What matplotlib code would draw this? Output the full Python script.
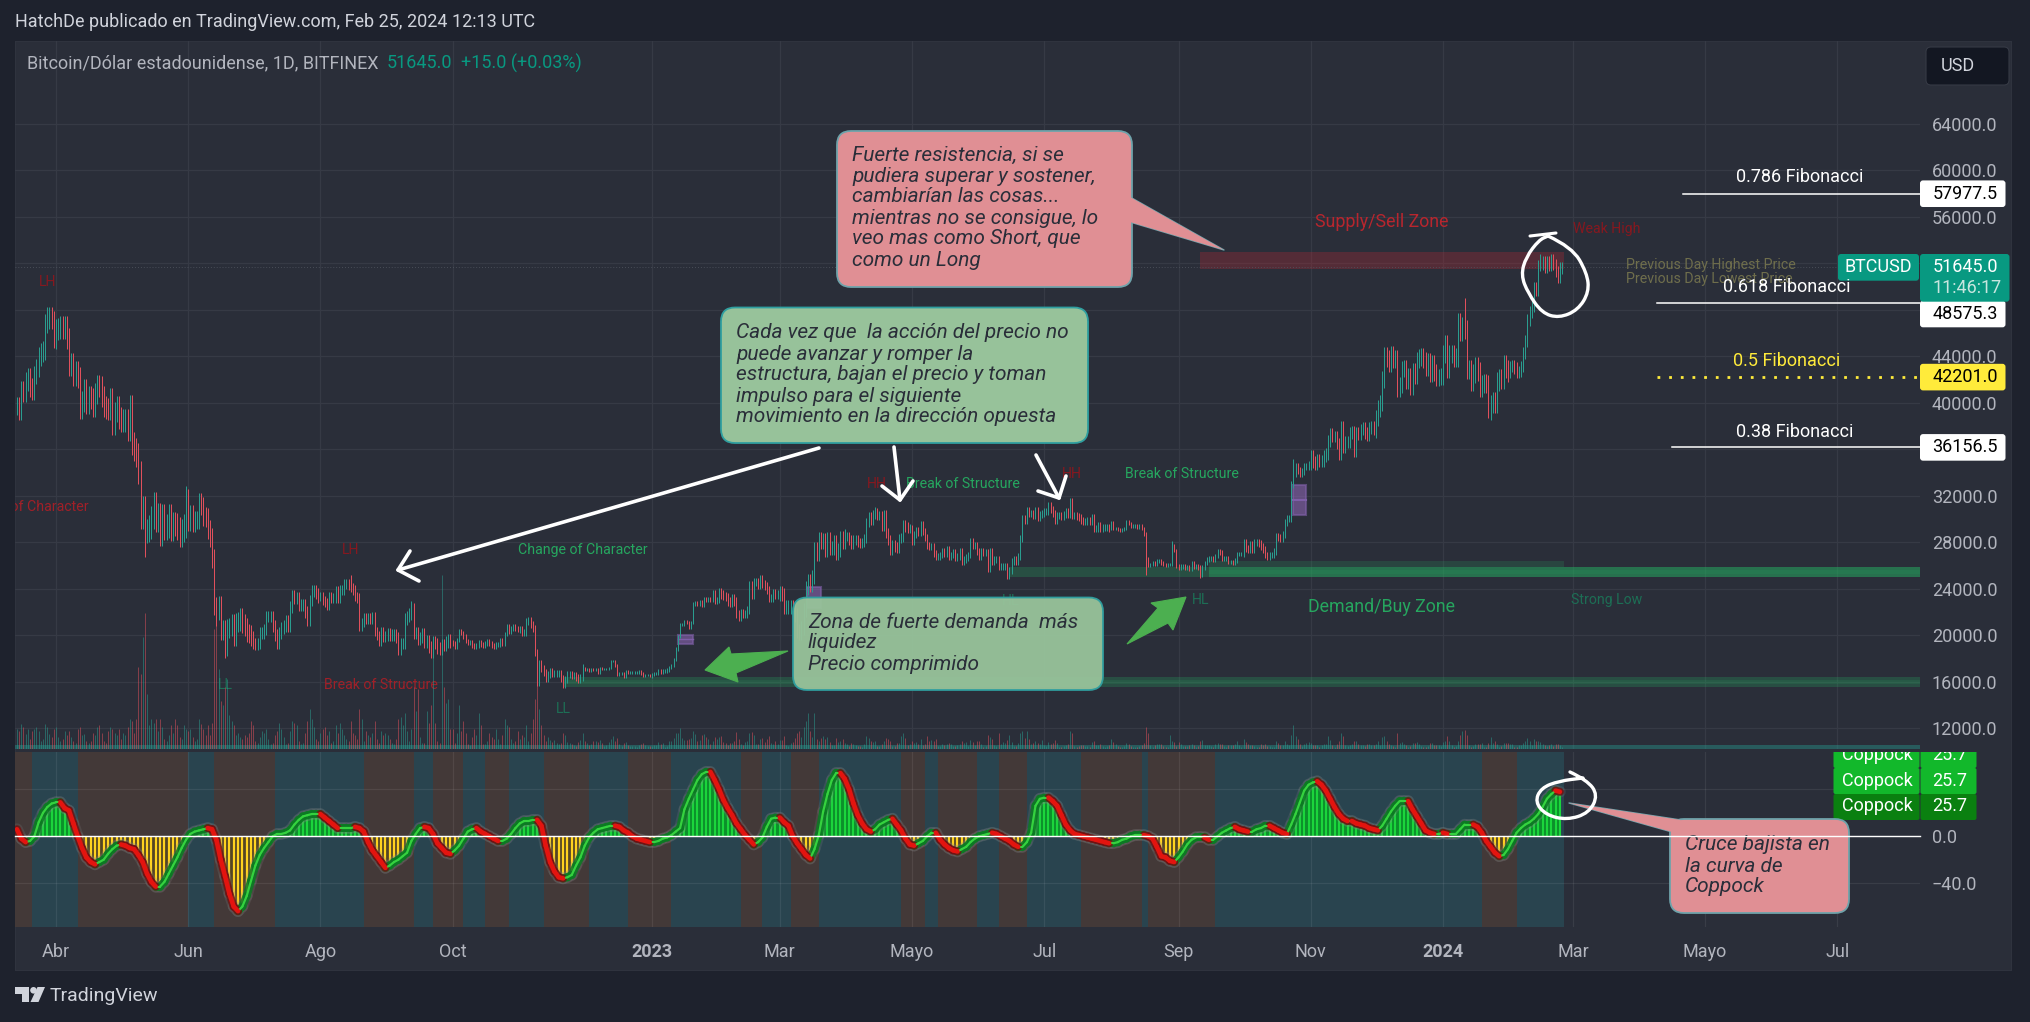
import datetime as dt
import numpy as np
import matplotlib
matplotlib.use("Agg")
import matplotlib.pyplot as plt
from matplotlib.collections import LineCollection
from matplotlib.patches import FancyBboxPatch, Polygon, Rectangle, Circle, PathPatch
from matplotlib.path import Path

plt.rcParams['font.family'] = ['Roboto', 'DejaVu Sans']

# ---------- daily closes, thousands of USD ----------
closes = {
 (2022, 3, 14): [39.7,39.3,41.1,40.9,41.8,42.2,41.3,41.0,42.4,43.0,44.0,44.3,44.5,46.8,47.1,47.4,47.1,45.5],
 (2022, 4, 1): [46.3,46.4,46.6,46.4,46.6,45.5,43.2,43.4,42.3,42.7,42.2,39.5,40.1,41.1,39.9,40.5,40.4,39.7,40.8,41.5,41.4,40.5,39.7,39.5,39.4,40.4,38.1,39.2,39.7,38.6],
 (2022, 5, 1): [38.5,38.5,38.5,37.7,39.7,36.5,36.0,35.5,34.0,30.1,31.0,28.9,29.0,29.3,30.1,31.3,29.9,30.4,28.7,30.3,29.2,29.4,30.3,29.1,29.6,29.5,29.2,28.6,29.0,29.4,31.8],
 (2022, 6, 1): [29.8,30.4,29.7,29.9,29.9,31.4,31.1,30.2,30.1,29.1,28.4,26.6,22.5,22.1,22.6,20.4,20.5,19.0,20.6,20.7,21.0,19.9,21.1,21.2,21.5,21.0,20.7,20.2,20.1,19.9],
 (2022, 7, 1): [19.3,19.2,19.3,20.2,20.2,20.5,21.6,21.6,21.6,20.8,20.0,19.3,20.2,20.6,20.8,21.2,20.8,22.4,23.4,23.2,23.2,22.6,22.6,22.6,22.0,21.3,23.0,23.8,23.8,23.6,23.3],
 (2022, 8, 1): [23.3,23.0,22.8,22.6,23.3,23.2,23.2,23.8,23.2,23.9,23.9,24.4,24.4,24.3,24.1,23.9,23.3,23.2,20.8,21.1,21.5,21.4,21.5,21.4,21.6,20.3,20.0,19.5,20.3,19.8,20.0],
 (2022, 9, 1): [20.1,20.0,20.0,20.0,19.8,18.8,19.3,19.3,21.4,21.6,21.8,22.4,20.2,20.2,19.7,19.8,20.1,19.4,19.5,19.0,18.5,19.4,19.3,18.9,18.8,19.2,19.1,19.4,19.6,19.4],
 (2022, 10, 1): [19.3,19.0,19.6,20.3,20.2,19.9,19.5,19.4,19.4,19.1,19.0,19.1,19.4,19.2,19.1,19.3,19.5,19.3,19.1,19.0,19.2,19.2,19.6,19.3,20.1,20.8,20.3,20.6,20.8,20.6,20.5],
 (2022, 11, 1): [20.5,20.2,20.2,21.2,21.3,20.9,20.6,18.5,15.9,17.6,17.1,16.8,16.3,16.6,16.9,16.7,16.7,16.7,16.7,16.3,15.8,16.2,16.6,16.6,16.5,16.5,16.4,16.2,16.4,17.2],
 (2022, 12, 1): [17.0,17.1,16.9,17.1,17.0,17.1,16.8,17.2,17.1,17.1,17.1,17.2,17.8,17.8,17.4,16.6,16.7,16.7,16.4,16.9,16.8,16.8,16.8,16.8,16.8,16.9,16.7,16.5,16.6,16.6,16.5],
 (2023, 1, 1): [16.6,16.7,16.7,16.9,16.8,16.9,16.9,17.0,17.2,17.4,17.9,18.8,19.9,20.9,20.9,21.2,21.1,20.7,21.1,22.7,22.8,22.7,22.9,22.6,23.1,23.0,23.1,23.0,23.7,22.8,23.1],
 (2023, 2, 1): [23.7,23.5,23.4,23.3,22.9,22.8,23.2,22.9,21.8,21.6,21.9,21.8,21.8,22.2,24.3,23.5,24.6,24.6,24.3,24.8,24.4,24.2,23.9,23.2,23.2,23.6,23.5,23.5],
 (2023, 3, 1): [23.6,23.5,22.4,22.4,22.4,22.4,22.0,21.7,20.4,20.2,20.6,22.2,24.1,24.7,24.3,25.0,27.4,27.0,28.3,28.0,28.2,27.3,28.3,27.5,27.5,28.0,27.1,27.3,28.4,28.0,28.5],
 (2023, 4, 1): [28.5,28.2,27.8,28.2,28.2,28.0,27.9,28.0,28.3,29.7,30.2,29.9,30.4,30.5,30.3,30.3,29.4,30.4,28.8,28.2,27.3,27.8,27.6,27.5,28.3,28.4,29.5,29.3,29.2,29.2],
 (2023, 5, 1): [28.1,28.7,29.0,28.8,29.5,28.9,28.4,27.7,27.6,27.6,27.0,26.8,26.8,26.9,27.2,27.0,27.4,26.8,26.9,27.1,26.7,26.8,27.2,26.3,26.5,26.7,26.9,28.1,27.7,27.7,27.2],
 (2023, 6, 1): [26.8,27.2,27.1,27.1,25.7,27.2,26.3,26.5,26.5,25.9,25.9,25.9,25.9,25.1,25.6,26.3,26.5,26.3,26.8,28.3,30.0,29.9,30.7,30.5,30.5,30.3,30.7,30.1,30.4,30.5],
 (2023, 7, 1): [30.6,30.6,31.2,30.8,30.5,29.9,30.3,30.3,30.2,30.4,30.6,30.4,31.5,30.3,30.3,30.2,30.1,29.9,29.8,29.8,29.9,29.8,30.1,29.2,29.2,29.4,29.2,29.3,29.3,29.3,29.2],
 (2023, 8, 1): [29.7,29.2,29.2,29.1,29.0,29.1,29.2,29.8,29.6,29.4,29.4,29.4,29.3,29.4,29.2,28.7,26.6,26.0,26.1,26.2,26.1,26.4,26.4,26.2,26.1,26.0,26.1,26.1,27.7,27.3,25.9],
 (2023, 9, 1): [25.8,25.9,25.9,25.8,25.8,25.7,26.2,25.9,25.9,25.8,25.2,25.8,26.2,26.5,26.6,26.6,26.5,26.8,27.2,27.1,26.6,26.6,26.6,26.3,26.3,26.2,26.4,27.0,27.0,27.0],
 (2023, 10, 1): [28.0,27.5,27.4,27.8,27.4,28.0,28.0,27.9,27.6,27.4,26.9,26.8,26.9,26.9,27.2,28.5,28.4,28.3,28.7,29.7,30.0,30.0,33.0,33.9,34.5,34.2,33.9,34.1,34.5,34.5,34.7],
 (2023, 11, 1): [35.4,34.9,34.7,35.1,35.0,35.0,35.4,35.6,36.7,37.3,37.1,37.1,36.5,35.6,37.9,36.2,36.6,36.6,37.4,37.5,35.8,37.4,37.3,37.7,37.8,37.4,37.2,37.8,37.9,37.7],
 (2023, 12, 1): [38.7,39.5,40.0,42.0,44.1,43.8,43.3,44.2,43.7,43.8,41.2,41.5,42.9,43.0,41.9,42.3,41.4,42.7,42.3,43.7,43.9,44.0,43.7,43.0,43.6,42.5,43.4,42.6,42.1,42.2,42.3],
 (2024, 1, 1): [44.2,45.0,42.9,44.2,44.2,43.9,43.9,46.9,46.1,46.6,46.3,42.8,42.9,41.8,42.5,43.1,42.7,41.3,41.6,41.7,41.6,39.5,39.9,40.1,39.9,41.8,42.1,42.0,43.3,42.9,42.6],
 (2024, 2, 1): [43.1,43.2,43.0,42.6,42.7,43.1,44.3,45.3,47.1,47.8,48.3,49.9,49.7,51.8,51.9,52.1,51.7,52.1,51.8,52.3,51.9,51.3,50.8,51.6,51.645],
}
# typical wick beyond the body, one per month (thousands of USD)
month_wick = [0.8,0.9,1.0,0.8,0.5,0.4,0.5,0.2,0.3,0.1,0.15,0.35,0.6,0.4,0.3,0.3,0.3,0.15,0.2,0.3,0.5,0.7,0.8,0.5]
# individually visible long wicks
low_dates = ['2022-05-12','2022-06-18','2022-11-09','2023-03-10','2023-08-17','2023-09-11','2024-01-23','2022-06-14']
low_vals = [26.7,18.0,15.6,19.6,25.2,24.9,38.5,20.8]
high_dates = ['2024-01-11','2024-02-15','2023-04-14','2023-07-13','2023-10-24','2022-03-28','2022-08-15','2023-08-29','2022-09-13']
high_vals = [49.0,52.8,31.0,31.8,35.2,48.2,25.2,28.1,22.8]

# ---------- volume, daily, arbitrary units ----------
volumes = [
 [20,18,25,22,15,20,10,18,20,22,18,8,10,25,22,15,12,20],
 [22,12,8,10,18,14,18,12,8,6,20,22,14,15,8,6,8,16,14,22,24,16,8,6,18,22,20,16,14,20],
 [10,16,14,22,30,28,16,30,82,75,112,136,55,24,30,26,30,18,30,22,10,8,14,24,16,30,24,12,10,24,20],
 [18,20,12,8,10,30,25,20,14,24,14,26,120,135,80,48,44,62,70,34,28,24,14,16,12,10,14,12,16,28],
 [24,8,6,12,18,16,20,10,5,6,14,18,26,20,12,5,6,18,28,26,24,8,5,6,16,28,40,30,22,10,8],
 [16,20,22,14,18,6,8,24,16,26,20,14,10,8,28,16,14,10,40,30,8,18,14,12,16,28,10,6,18,14,16],
 [14,10,6,5,10,30,32,24,36,18,8,20,62,38,60,12,6,6,38,26,44,92,26,8,6,174,62,46,50,20],
 [20,6,16,44,18,28,16,5,4,12,20,14,36,24,5,5,8,16,12,10,20,10,5,14,30,24,22,10,6,8,18],
 [10,14,12,24,8,16,30,50,70,40,24,14,8,12,9,7,9,6,5,6,16,14,7,6,5,4,3,7,9,16],
 [8,6,4,5,8,8,7,9,6,3,4,7,10,13,8,11,5,3,6,7,4,3,3,3,2,4,5,6,4,3,3],
 [3,4,4,7,5,6,2,3,8,8,11,16,16,21,11,9,9,10,11,18,15,8,9,14,15,12,10,5,8,12,10],
 [12,13,7,6,4,6,6,8,17,10,5,4,7,8,16,17,14,5,5,10,11,7,10,13,6,5,8,5],
 [9,9,13,4,3,6,7,11,16,18,12,22,28,36,18,12,36,10,8,11,13,10,12,7,4,4,11,7,8,10,6],
 [5,3,6,5,4,3,3,2,5,13,11,8,7,8,3,3,5,8,11,10,8,3,3,6,6,13,16,11,4,5],
 [8,6,7,5,10,4,5,13,8,9,8,10,3,3,5,4,5,6,5,3,3,4,5,8,6,7,3,9,7,4,8],
 [8,5,2,3,14,12,10,4,3,16,5,7,6,9,14,7,3,3,6,16,18,11,18,10,5,6,8,6,5,9],
 [4,3,7,5,6,9,6,2,2,3,4,5,18,16,3,2,3,4,4,3,3,2,7,8,4,4,5,3,2,3,4],
 [10,7,5,3,2,2,3,6,5,3,2,2,2,3,4,6,22,16,4,2,4,5,5,5,3,2,2,14,8,7,3],
 [7,5,3,3,3,4,5,4,2,3,8,9,4,4,4,3,2,5,6,5,5,3,2,4,4,4,5,8,4,2],
 [10,7,5,4,4,3,2,2,5,4,5,3,3,2,2,8,6,4,4,8,5,4,14,24,13,10,5,3,5,6,7],
 [6,4,4,4,2,4,5,5,13,9,4,2,5,8,16,13,4,3,4,5,8,8,5,4,4,3,5,5,4,4],
 [5,8,4,12,13,8,5,4,3,2,16,6,7,5,4,2,3,6,6,7,5,3,2,2,3,6,6,4,4,4,3],
 [7,8,13,8,4,2,3,8,14,18,19,14,4,2,3,5,5,5,6,2,2,6,12,6,8,5,2,3,6,6,6],
 [5,5,2,2,4,4,6,8,11,8,4,10,8,8,7,5,4,3,4,5,3,5,5,4,2],
]

# ---------- Coppock, one reading every two days ----------
cop_start_a = -18
cop_a = [6,-2,-5,-4,0,12,20,25,28,29,29,24,22,11,0,-10,-18,-22,-24,-22,-20,-15,-11,-8,-7,-8,-10,-11,-16,-22,-32,-39,-43,-43,-39,-32,-25,-18,-10,-3,
 2,4,5,6,7,6,-3,-20,-34,-49,-60,-64,-60,-51,-38,-25,-16,-10,-5,0,2,2,3,5,10,14,17,18,19,19,19,16,13,10,7,7,7,7,8,7,4,-5,-12,-17,-22,-27,-25,-22,-20,-17,-14,-4,
 2,7,8,7,2,-6,-10,-14,-15,-12,-8,-2,4,6,7,4,2,0,-2,-4,-4,-2,2,7,11,13]
cop_start_b = 218
cop_b = [13,14,14,9,-8,-22,-30,-35,-36,-35,-33,-25,-18,-8,-1,3,6,7,8,9,9,8,5,3,0,-2,-3,-4,-5,-5,-4,-2,-1,1,4,7,23,32,40,48,53,55,55,48,40,31,24,18,11,6,1,-3,-7,-5,-1,8,15,16,16,12,9,0,-6,-11,-16,-19,-11,1,21,36,48,54,54,49,40,28,18,11,6,4,6,10,12,14,15,10,5,-2,-7,-8,-6,-4,0,3,3,-3,-7,-10,-12,-13,-11,-9,-5,-2,0,1,2,3,2,0,-2,-4,-7,-9,-9,-5,3,26,32,33,33]
cop_start_c = 460
cop_c = [30,26,18,10,5,2,1,0,-1,-2,-3,-4,-5,-6,-6,-5,-3,-2,0,1,1,1,0,-2,-9,-17,-18,-21,-22,-18,-13,-7,-3,-1,-1,-1,-3,-3,0,3,5,7,8,6,5,4,4,6,7,9,9,7,5,3,2,10,19,29,39,44,46,47,44,39,32,25,19,15,13,13,11,10,9,7,6,5,9,15,21,26,30,30,30,23,17,11,5,3,2,2,3,2,2,2,6,10,10,10,8,3,-4,-9,-14,-17,-16,-11,-4,3,7,10,12,15,19,25,32,36,39,38]

# background bands of the Coppock pane: edges in days since 2022-04-01, first band brown
band_edges = [-19,-11,10,61,73,101,142,165,174,188,198,209,225,246,264,284,316,326,339,352,390,401,407,425,435,448,473,501,504,535,658,674,696]

# axis labels
price_ticks = [12000,16000,20000,24000,28000,32000,36000,40000,44000,48000,52000,56000,60000,64000]
month_dates = ['2022-04-01','2022-06-01','2022-08-01','2022-10-01','2023-01-01','2023-03-01','2023-05-01','2023-07-01','2023-09-01','2023-11-01','2024-01-01','2024-03-01','2024-05-01','2024-07-01']
month_labels = ['Abr','Jun','Ago','Oct','2023','Mar','Mayo','Jul','Sep','Nov','2024','Mar','Mayo','Jul']

# fibonacci levels
fib_prices = [57977.5,48575.3,36156.5,42201.0]

# ---------- colours ----------
OUTER, PANEL = '#1e222d', '#2a2e39'
GRID = '#363a45'
TICK = '#b2b5be'
UP, DOWN = '#2a9d8f', '#e0505c'
BAR_TEAL, BAR_BROWN = '#29444f', '#433938'
RED_D, GREEN_D = '#a02028', '#26a65f'

W, H = 2031, 1022
D0 = dt.date(2022, 4, 1)
X0, PX_DAY = 56.0, 2.167
Y64, PX_USD = 123.7, 46.5 / 4000


def day(s):
    return (dt.date.fromisoformat(s) - D0).days


def day_of_px(x):
    return (x - X0) / PX_DAY


def price_of_px(y):
    return 64000 - (y - Y64) / PX_USD


fig = plt.figure(figsize=(W / 100, H / 100), dpi=100, facecolor=OUTER)


def axes_px(l, t, r, b, **kw):
    return fig.add_axes([l / W, 1 - b / H, (r - l) / W, (b - t) / H], **kw)


bg = axes_px(15, 41, 2011, 970, zorder=0, facecolor=PANEL)
bg.set_xticks([]); bg.set_yticks([])
for s in bg.spines.values():
    s.set_color('#2f333e')

L, R = 15, 1920
ax = axes_px(L, 41, R, 749, zorder=1, facecolor='none')
ax.set_xlim(day_of_px(L), day_of_px(R))
ax.set_ylim(price_of_px(749), price_of_px(41))
vol = axes_px(L, 41, R, 749, zorder=2, facecolor='none', sharex=ax)
vol.set_ylim(0, 708)
vol.axis('off')
cop = axes_px(L, 752, R, 927, zorder=3, facecolor='none', sharex=ax)
cop.set_ylim(-77.5, 72)
ov = fig.add_axes([0, 0, 1, 1], zorder=5, facecolor='none')
ov.set_xlim(0, W); ov.set_ylim(H, 0); ov.axis('off')

# ---------- candles ----------
xs, cl, wk, vs = [], [], [], []
for i, ((y, m, d), vals) in enumerate(closes.items()):
    start = (dt.date(y, m, d) - D0).days
    for j, c in enumerate(vals):
        xs.append(start + j); cl.append(c); wk.append(month_wick[i])
    vs += volumes[i][:len(vals)] + [0] * (len(vals) - len(volumes[i]))
xs, cl, wk, vs = map(np.array, (xs, cl, wk, vs))
op = np.r_[cl[0], cl[:-1]]
hi = np.maximum(op, cl) + wk
lo = np.minimum(op, cl) - wk
for ds, v in zip(low_dates, low_vals):
    lo[xs == day(ds)] = v
for ds, v in zip(high_dates, high_vals):
    hi[xs == day(ds)] = v
colors = np.where(cl >= op, UP, DOWN)
ax.vlines(xs, lo * 1000, hi * 1000, colors=colors, lw=0.72, zorder=4)
vol.vlines(xs, 0, vs, colors=colors, lw=0.72, alpha=0.5)

# ---------- grid and axes ----------
ax.set_yticks(price_ticks)
ax.set_yticklabels([f'{p:.1f}' for p in price_ticks])
ax.yaxis.tick_right()
ax.tick_params(axis='y', length=0, pad=8.4, labelsize=13, colors=TICK)
ax.tick_params(axis='x', length=0, labelbottom=False)
month_days = [day(s) for s in month_dates]
ax.set_xticks(month_days)
ax.grid(True, color=GRID, lw=0.9, zorder=0)
ax.set_axisbelow(True)
for a in (ax, cop):
    for s in a.spines.values():
        s.set_visible(False)

# ---------- zones (price, days) ----------
ax.add_patch(Rectangle((528, 51510), 168, 1430, fc='#a82a35', alpha=0.34, ec='none', zorder=2))
ax.add_patch(Rectangle((440, 24970), 420, 930, fc='#26a65f', alpha=0.28, ec='none', zorder=2))
ax.add_patch(Rectangle((532, 24970), 328, 930, fc='#26a65f', alpha=0.40, ec='none', zorder=2))
ax.add_patch(Rectangle((532, 25300), 328, 300, fc='#26a65f', alpha=0.15, ec='none', zorder=2))
ax.add_patch(Rectangle((532, 25900), 164, 490, fc='#26a65f', alpha=0.2, ec='none', zorder=2))
ax.add_patch(Rectangle((234, 15580), 626, 810, fc='#26a65f', alpha=0.27, ec='none', zorder=2))
ax.add_patch(Rectangle((234, 15800), 626, 370, fc='#26a65f', alpha=0.14, ec='none', zorder=2))
ax.add_patch(Rectangle((-19, 9900), 879, 670, fc='#26a69a', alpha=0.38, ec='none', zorder=2))
for d0, d1, p0, p1 in [(287, 294, 19250, 20030), (346.4, 353, 22350, 24160), (571, 577, 30350, 32930)]:
    ax.add_patch(Rectangle((d0, p0), d1 - d0, p1 - p0, fc='#8a64b0', ec='#7e5fa8', alpha=0.6, lw=1.5, zorder=3))
ax.plot([571, 577], [31640, 31640], color='#7e5fa8', lw=1.5, zorder=3)
ax.plot([287, 294], [19650, 19650], color='#7e5fa8', lw=1, zorder=3)
ax.axhline(51645, color='#525862', lw=0.6, ls=(0, (1, 2.5)), zorder=2)
# fibonacci lines
ax.plot([day_of_px(1683), 860], [fib_prices[0]] * 2, color='white', lw=1.1, zorder=5)
ax.plot([day_of_px(1657), 860], [fib_prices[1]] * 2, color='white', lw=1.1, zorder=5)
ax.plot([day_of_px(1672), 860], [fib_prices[2]] * 2, color='white', lw=1.1, zorder=5)
ax.plot([day_of_px(1657), 860], [fib_prices[3]] * 2, color='#ffeb3b', lw=2.0, ls=(0, (1, 3.2)), zorder=5)


def chart_text(x, y, s, color, size=10.2, ha='center', **kw):
    ax.text(x, y, s, color=color, fontsize=size, ha=ha, va='center',
            transform=ov.transData, clip_on=True, zorder=6, **kw)


DR, DG = '#86181f', '#1d6e55'
chart_text(48, 282, 'LH', DR)
chart_text(351, 550, 'LH', DR)
chart_text(89, 507, 'Change of Character', RED_D, ha='right')
chart_text(225, 685, 'LL', DG)
chart_text(381, 685, 'Break of Structure', RED_D)
chart_text(563, 709, 'LL', DG)
chart_text(648, 550, 'Change of Character', GREEN_D, ha='right')
chart_text(877, 484, 'HH', DR)
chart_text(963, 484, 'Break of Structure', GREEN_D)
chart_text(1072, 474, 'HH', DR)
chart_text(1182, 474, 'Break of Structure', GREEN_D)
chart_text(1011, 601, 'HL', DG)
chart_text(1201, 600, 'HL', DG)
chart_text(1382, 607, 'Demand/Buy Zone', GREEN_D, size=12.8)
chart_text(1382, 222, 'Supply/Sell Zone', '#b8262e', size=12.8)
chart_text(1607, 229, 'Weak High', DR)
chart_text(1607, 600, 'Strong Low', DG)
chart_text(1626, 265, 'Previous Day Highest Price', '#6f6e4c', ha='left')
chart_text(1626, 279, 'Previous Day Lowest Price', '#6f6e4c', ha='left')

# ---------- Coppock pane ----------
for i in range(len(band_edges) - 1):
    cop.axvspan(band_edges[i], band_edges[i + 1],
                color=BAR_BROWN if i % 2 == 0 else BAR_TEAL, lw=0, zorder=1)
cop.set_yticks([40, 0, -40])
cop.set_yticklabels(['40.0', '0.0', '\u221240.0'])
cop.yaxis.tick_right()
cop.tick_params(axis='y', length=0, pad=8.4, labelsize=13, colors=TICK)
cop.tick_params(axis='x', length=0, pad=11.5, labelsize=13, colors=TICK)
cop.set_xticks(month_days)
cop.set_xticklabels(month_labels)
for lab in cop.get_xticklabels():
    if lab.get_text().isdigit():
        lab.set_fontweight('bold')
cop.grid(True, color='#ffffff', alpha=0.075, lw=0.9, zorder=2)
cop.set_axisbelow(False)
cop.set_xlim(day_of_px(L), day_of_px(R))

cx = np.r_[cop_start_a + 2 * np.arange(len(cop_a)),
           cop_start_b + 2 * np.arange(len(cop_b)),
           cop_start_c + 2 * np.arange(len(cop_c))]
cy = np.array(cop_a + cop_b + cop_c, dtype=float)
pos, neg = cy >= 0, cy < 0
cop.fill_between(cx, 0, cy, where=cy >= 0, color='#0c8f2b', lw=0, zorder=3, interpolate=True)
cop.vlines(cx[pos], 0, cy[pos], colors='#1bd53c', lw=1.5, zorder=3.2)
cop.fill_between(cx, 0, cy, where=cy < 0, color='#5c4a1e', alpha=0.7, lw=0, zorder=3, interpolate=True)
cop.vlines(cx[neg], 0, cy[neg], colors='#ffd21f', lw=1.6, zorder=3.2)
segs = np.stack([np.c_[cx[:-1], cy[:-1]], np.c_[cx[1:], cy[1:]]], axis=1)
fall = cy[1:] < cy[:-1]
cop.add_collection(LineCollection(segs, colors='#8a8a8a', lw=8.5, alpha=0.18, capstyle='round', zorder=3.5))
cop.add_collection(LineCollection(segs[~fall], colors='#0b7a22', lw=5.8, alpha=0.85, capstyle='round', zorder=4))
cop.add_collection(LineCollection(segs[fall], colors='#6f1212', lw=5.8, alpha=0.85, capstyle='round', zorder=4))
cop.add_collection(LineCollection(segs[~fall], colors='#35d23f', lw=1.6, capstyle='round', zorder=5))
cop.add_collection(LineCollection(segs[fall], colors='#e3140f', lw=3.3, capstyle='round', zorder=5))

# ---------- chrome ----------
def t(x, y, s, color='white', size=13, ha='left', **kw):
    return ov.text(x, y, s, color=color, fontsize=size, ha=ha, va='center', zorder=20, **kw)


t(15, 22, 'HatchDe publicado en TradingView.com, Feb 25, 2024 12:13 UTC', '#d1d4dc')
t(27, 63, 'Bitcoin/D\u00f3lar estadounidense, 1D, BITFINEX', '#b2b5be')
t(387, 63, '51645.0', '#089981')
t(461, 63, '+15.0 (+0.03%)', '#089981')
t(50, 996, 'TradingView', '#d1d4dc', size=14)
ov.add_patch(Polygon([(15, 987), (29, 987), (29, 1002), (22, 1002), (22, 994), (15, 994)], fc='#d1d4dc', ec='none'))
ov.add_patch(Circle((33.5, 990.3), 3.3, fc='#d1d4dc', ec='none'))
ov.add_patch(Polygon([(37.5, 987), (45, 987), (38.5, 1002), (30.5, 1002)], fc='#d1d4dc', ec='none'))

ov.add_patch(FancyBboxPatch((1926, 47), 83, 38, boxstyle='round,pad=0,rounding_size=5', fc='#131722', ec='#363a45', lw=0.8))
t(1941, 66, 'USD', '#d1d4dc')


def tag(x0, y0, x1, y1, fc, r=3):
    ov.add_patch(FancyBboxPatch((x0, y0), x1 - x0, y1 - y0, boxstyle=f'round,pad=0,rounding_size={r}', fc=fc, ec='none', zorder=10))


for p, fg, bgc in zip(fib_prices, ['black'] * 4, ['white', 'white', 'white', '#ffeb3b']):
    yp = Y64 + (64000 - p) * PX_USD
    if p == fib_prices[1]:
        yp += 11
    tag(1920, yp - 13.3, 2005.5, yp + 13.3, bgc)
    t(1932.5, yp, f'{p:.1f}', fg)

tag(1838, 254, 1919, 280.7, '#089981')
tag(1920, 254, 2009.5, 301.7, '#089981')
t(1845, 267.5, 'BTCUSD')
t(1932.5, 267.5, '51645.0')
t(1932.5, 288, '11:46:17', '#c8e6df')
t(1736, 177, '0.786 Fibonacci')
t(1723, 287, '0.618 Fibonacci')
t(1733, 361, '0.5 Fibonacci', '#ffeb3b')
t(1736, 432, '0.38 Fibonacci')

clip = Rectangle((1800, 752), 231, 175, transform=ov.transData)
for ya, yb, fc, yt in [(740, 768, '#12b82b', 755), (768, 794, '#12b82b', 781), (794, 820, '#0a8010', 806)]:
    p1 = FancyBboxPatch((1833.5, ya), 86, yb - ya, boxstyle='round,pad=0,rounding_size=2', fc=fc, ec='none', zorder=10)
    p2 = FancyBboxPatch((1920.5, ya), 56, yb - ya, boxstyle='round,pad=0,rounding_size=2', fc=fc, ec='none', zorder=10)
    ov.add_patch(p1); ov.add_patch(p2)
    p1.set_clip_path(clip); p2.set_clip_path(clip)
    t1 = t(1842, yt, 'Coppock', clip_on=True)
    t2 = t(1932.5, yt, '25.7', clip_on=True)
    t1.set_clip_path(clip); t2.set_clip_path(clip)

# ---------- callouts ----------
INK = '#2a2e39'


def callout(x0, y0, x1, y1, fc, ec, lines, tx, ys, tail=None, alpha=1.0):
    if tail:
        ov.add_patch(Polygon(tail, fc=fc, ec=ec, lw=1.0, alpha=alpha, zorder=11, joinstyle='round'))
    ov.add_patch(FancyBboxPatch((x0, y0), x1 - x0, y1 - y0, boxstyle='round,pad=0,rounding_size=14',
                                fc=fc, ec=ec, lw=1.3, alpha=alpha, zorder=11))
    if tail:
        ov.add_patch(Polygon([tail[0], tail[1], tail[2]], fc=fc, ec='none', alpha=alpha, zorder=11.5))
    for s, yy in zip(lines, ys):
        ov.text(tx, yy, s, color=INK, fontsize=15, style='italic', va='center', zorder=12)


PINK, GRN = '#e08f94', '#97c29a'
callout(837, 131, 1132, 287, PINK, '#6fa3ab',
        ['Fuerte resistencia, si se', 'pudiera superar y sostener,', 'cambiar\u00edan las cosas...',
         'mientras no se consigue, lo', 'veo mas como Short, que', 'como un Long'],
        852, [155, 176, 197, 218, 239, 260], tail=[(1130, 197), (1224, 250), (1130, 222)])
callout(721, 307.5, 1088, 443, GRN, '#2f9fa0',
        ['Cada vez que  la acci\u00f3n del precio no', 'puede avanzar y romper la',
         'estructura, bajan el precio y toman', 'impulso para el siguiente',
         'movimiento en la direcci\u00f3n opuesta'],
        736, [333, 354, 375, 396, 417])
callout(793, 597.5, 1103, 690, GRN, '#2f9fa0',
        ['Zona de fuerte demanda  m\u00e1s', 'liquidez', 'Precio comprimido'],
        808, [622, 643, 664], alpha=0.96)
callout(1670, 819, 1849, 913, PINK, '#6fa3ab',
        ['Cruce bajista en', 'la curva de', 'Coppock'],
        1685, [844, 866, 886], tail=[(1681, 820), (1569, 803), (1672, 832)])
ov.plot([0, 1], [0, 0], color='white', lw=1.0, transform=cop.get_yaxis_transform(), zorder=13, clip_on=False)

# ---------- hand-drawn strokes ----------
def stroke(pts, lw=2.6):
    ov.plot(*zip(*pts), color='white', lw=lw, solid_capstyle='round', solid_joinstyle='round', zorder=14)


def smooth(pts, lw=2.4, ls='-'):
    verts, codes = [pts[0]], [Path.MOVETO]
    for a, b in zip(pts[1:-1], pts[2:]):
        verts += [a, ((a[0] + b[0]) / 2, (a[1] + b[1]) / 2)]
        codes += [Path.CURVE3, Path.CURVE3]
    verts += [pts[-1]]; codes += [Path.LINETO]
    ov.add_patch(PathPatch(Path(verts, codes), fc='none', ec='white', lw=lw, ls=ls, capstyle='round', zorder=14))


stroke([(819, 448), (398, 570)])
stroke([(410, 551), (398, 570), (419, 581)])
stroke([(894, 447), (900, 500)])
stroke([(882, 486), (900, 500), (913, 481)])
stroke([(1036, 455), (1059, 498)])
stroke([(1038, 491), (1059, 498), (1066, 476)])
stroke([(1530, 236), (1556, 233)], lw=2.2)
smooth([(1548, 236), (1572, 247), (1587, 273), (1589, 292), (1578, 310), (1559, 318), (1542, 313),
        (1528, 293), (1521, 275), (1526, 257), (1539, 240), (1548, 236)])
smooth([(1570, 772), (1587, 780), (1598, 795), (1589, 813), (1567, 820), (1546, 815), (1535, 802),
        (1541, 788), (1559, 781), (1583, 778)])

GA = '#4caf50'
ov.add_patch(Polygon([(788, 651), (731, 654), (729, 647), (705, 670), (738, 682), (736, 673)], fc=GA, ec=GA, lw=0.8, zorder=13))
ov.add_patch(Polygon([(1127, 644), (1158, 608), (1151, 603), (1186, 597), (1173, 630), (1168, 623)], fc=GA, ec=GA, lw=0.8, zorder=13))

fig.savefig('out.png', dpi=100, facecolor=OUTER)
